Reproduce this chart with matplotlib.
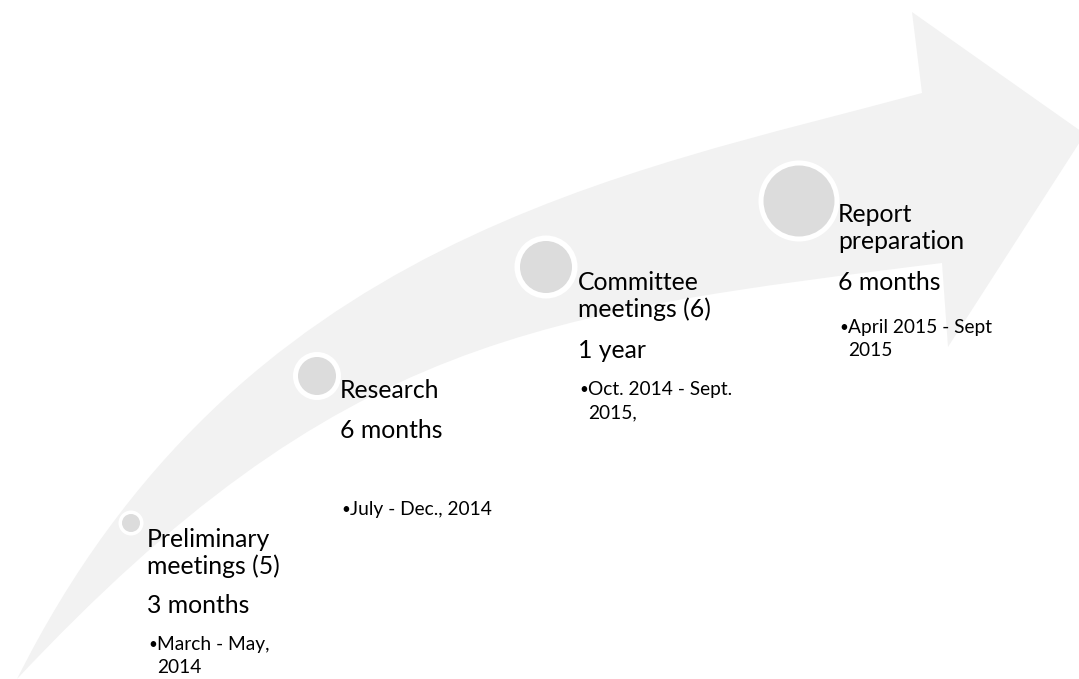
import numpy as np
import matplotlib.pyplot as plt
from matplotlib.path import Path
from matplotlib.patches import PathPatch, Circle

# stage content
titles = ["Preliminary\nmeetings (5)", "Research", "Committee\nmeetings (6)", "Report\npreparation"]
durations = ["3 months", "6 months", "1 year", "6 months"]
dates = ["March - May,\n2014", "July - Dec., 2014", "Oct. 2014 - Sept.\n2015,", "April 2015 - Sept\n2015"]

# layout (pixel coordinates, y grows downward)
circle_xy = [(131, 523), (317, 376), (546, 267), (799, 201)]
circle_r = [12.5, 24, 31.5, 40.5]
ring_w = [3.5, 5, 5.5, 5]
text_x = [147, 340, 578, 838]
title_y = [547, 398, 290, 222]
dur_y = [613, 438, 358, 290]
date_y = [650, 515, 395, 333]

W, H = 1079, 679
fig = plt.figure(figsize=(W / 100, H / 100), dpi=100)
ax = fig.add_axes([0, 0, 1, 1])
ax.set_xlim(0, W)
ax.set_ylim(H, 0)
ax.axis("off")

plt.rcParams["font.family"] = ["Lato", "DejaVu Sans"]

# -------------------------
# curved arrow
# -------------------------
verts = [
    (17, 679),
    (237, 239), (622, 174), (922, 93),   # upper edge
    (912, 12),
    (1085, 134),
    (948, 347),
    (942, 263),
    (542, 313), (340, 335), (17, 679),   # lower edge back to tail
    (17, 679),
]
codes = [Path.MOVETO,
         Path.CURVE4, Path.CURVE4, Path.CURVE4,
         Path.LINETO, Path.LINETO, Path.LINETO, Path.LINETO,
         Path.CURVE4, Path.CURVE4, Path.CURVE4,
         Path.CLOSEPOLY]
ax.add_patch(PathPatch(Path(verts, codes), facecolor="#f2f2f2", edgecolor="none"))

# -------------------------
# circles and text
# -------------------------
for i in range(len(titles)):
    cx, cy = circle_xy[i]
    ax.add_patch(Circle((cx, cy), circle_r[i], facecolor="white", edgecolor="none"))
    ax.add_patch(Circle((cx, cy), circle_r[i] - ring_w[i], facecolor="#dcdcdc", edgecolor="none"))

    lines = titles[i].split("\n")
    for k, line in enumerate(lines):
        ax.text(text_x[i], title_y[i] + 27 * k, line, fontsize=17.8,
                va="baseline", ha="left", color="black")
    ax.text(text_x[i], dur_y[i], durations[i], fontsize=17.8,
            va="baseline", ha="left", color="black")

    dl = dates[i].split("\n")
    ax.text(text_x[i] + 1, date_y[i] - 1, "\u2022", fontsize=11,
            va="baseline", ha="left", color="black")
    for k, line in enumerate(dl):
        ax.text(text_x[i] + 10, date_y[i] + 23 * k, line, fontsize=13.8,
                va="baseline", ha="left", color="black")

fig.savefig("out.png", dpi=100)
